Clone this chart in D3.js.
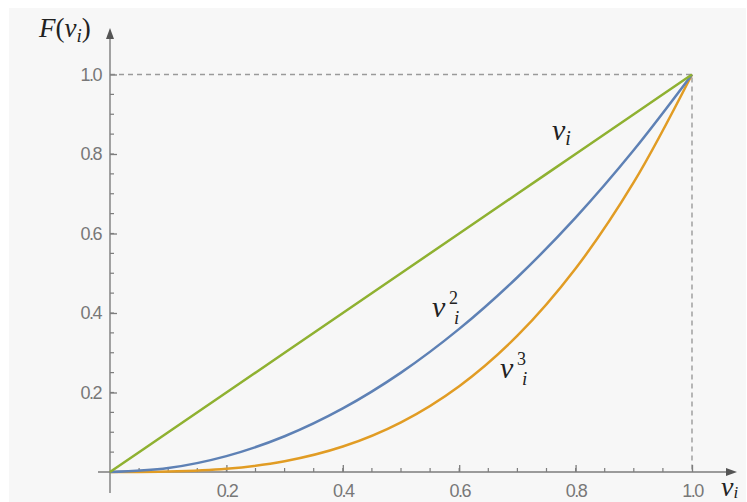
<!DOCTYPE html>
<html>
<head>
<meta charset="utf-8">
<script src="https://cdn.jsdelivr.net/npm/d3@7"></script>
<style>
  body { margin: 0; background: #fff; }
  .tick text { font-family: "Liberation Sans Narrow", "Arial Narrow", "Liberation Sans", Arial, sans-serif; font-size: 18px; fill: #787878; letter-spacing: -1.5px; }
  .math { font-family: "Times New Roman", "Liberation Serif", "DejaVu Serif", serif; font-style: italic; fill: #222; }
</style>
</head>
<body>
<svg></svg>
<script>
// values
var vValues = [0, 0.1, 0.2, 0.3, 0.4, 0.5, 0.6, 0.7, 0.8, 0.9, 1.0];
var lineV  = [0, 0.1, 0.2, 0.3, 0.4, 0.5, 0.6, 0.7, 0.8, 0.9, 1.0];
var lineV2 = [0, 0.01, 0.04, 0.09, 0.16, 0.25, 0.36, 0.49, 0.64, 0.81, 1.0];
var lineV3 = [0, 0.001, 0.008, 0.027, 0.064, 0.125, 0.216, 0.343, 0.512, 0.729, 1.0];
var tickLabels = [0.2, 0.4, 0.6, 0.8, 1.0];

window.onload = function() {
  var svg = d3.select("svg")
    .attr("width", 747)
    .attr("height", 502);

  // grey panel
  svg.append("rect")
    .attr("x", 9).attr("y", 8)
    .attr("width", 737).attr("height", 494)
    .attr("fill", "#f7f7f7");

  var x = d3.scaleLinear().domain([0, 1]).range([110, 692]);
  var y = d3.scaleLinear().domain([0, 1]).range([472, 74.5]);

  var minor = d3.range(1, 20).map(function(i) { return i * 0.05; });

  // dashed guides
  svg.append("path")
    .attr("d", "M" + x(0) + "," + y(1) + "H" + x(1) + "V" + y(0))
    .attr("fill", "none")
    .attr("stroke", "#9a9a9a")
    .attr("stroke-width", 1.4)
    .attr("stroke-dasharray", "5,4");

  // axes lines
  var axisCol = "#7d7d7d";
  svg.append("line")
    .attr("x1", 98).attr("x2", 730)
    .attr("y1", y(0)).attr("y2", y(0))
    .attr("stroke", axisCol).attr("stroke-width", 1.4);
  svg.append("line")
    .attr("x1", x(0)).attr("x2", x(0))
    .attr("y1", 493).attr("y2", 36)
    .attr("stroke", axisCol).attr("stroke-width", 1.4);
  // arrow heads
  svg.append("path")
    .attr("d", "M737," + y(0) + "l-11,-4l0,8z")
    .attr("fill", "#555");
  svg.append("path")
    .attr("d", "M" + x(0) + ",28l-4,11l8,0z")
    .attr("fill", "#555");

  // x axis ticks
  var xAxis = d3.axisTop(x)
    .tickValues(tickLabels)
    .tickSize(7)
    .tickFormat(d3.format(".1f"));
  var gx = svg.append("g")
    .attr("transform", "translate(0," + y(0) + ")")
    .call(xAxis);
  gx.select(".domain").remove();
  gx.selectAll(".tick line").attr("stroke", axisCol).attr("stroke-width", 1.3);
  gx.selectAll(".tick text").attr("y", 25).attr("dy", 0);

  svg.append("g")
    .attr("transform", "translate(0," + y(0) + ")")
    .selectAll("line")
    .data(minor).enter()
    .append("line")
    .attr("x1", function(d) { return x(d); })
    .attr("x2", function(d) { return x(d); })
    .attr("y1", 0).attr("y2", -4)
    .attr("stroke", axisCol).attr("stroke-width", 1.2);

  // y axis ticks
  var yAxis = d3.axisRight(y)
    .tickValues(tickLabels)
    .tickSize(7)
    .tickFormat(d3.format(".1f"));
  var gy = svg.append("g")
    .attr("transform", "translate(" + x(0) + ",0)")
    .call(yAxis);
  gy.select(".domain").remove();
  gy.selectAll(".tick line").attr("stroke", axisCol).attr("stroke-width", 1.3);
  gy.selectAll(".tick text")
    .attr("x", -9)
    .attr("text-anchor", "end");

  svg.append("g")
    .attr("transform", "translate(" + x(0) + ",0)")
    .selectAll("line")
    .data(minor).enter()
    .append("line")
    .attr("y1", function(d) { return y(d); })
    .attr("y2", function(d) { return y(d); })
    .attr("x1", 0).attr("x2", 4)
    .attr("stroke", axisCol).attr("stroke-width", 1.2);

  // curves
  var series = [
    { vals: lineV3, color: "#e19c24" },
    { vals: lineV2, color: "#5e81b5" },
    { vals: lineV,  color: "#8fb131" }
  ];
  var line = d3.line()
    .x(function(d, i) { return x(vValues[i]); })
    .y(function(d) { return y(d); })
    .curve(d3.curveCatmullRom);

  svg.selectAll("path.curve")
    .data(series).enter()
    .append("path")
    .attr("class", "curve")
    .attr("d", function(s) { return line(s.vals); })
    .attr("fill", "none")
    .attr("stroke", function(s) { return s.color; })
    .attr("stroke-width", 2.5);

  // axis labels
  var fl = svg.append("text").attr("class", "math")
    .attr("x", 39).attr("y", 37).style("font-size", "27px");
  fl.append("tspan").text("F");
  fl.append("tspan").style("font-style", "normal").text("(");
  fl.append("tspan").text("v");
  fl.append("tspan").attr("dy", 5).style("font-size", "19px").text("i");
  fl.append("tspan").attr("dy", -5).style("font-style", "normal").text(")");

  var xl = svg.append("text").attr("class", "math")
    .attr("x", 721).attr("y", 496).style("font-size", "28px");
  xl.append("tspan").text("v");
  xl.append("tspan").attr("dy", 2).style("font-size", "17px").text("i");

  // curve labels
  var l1 = svg.append("text").attr("class", "math")
    .attr("x", 552).attr("y", 140).style("font-size", "30px");
  l1.append("tspan").text("v");
  l1.append("tspan").attr("dy", 5).style("font-size", "20px").text("i");

  function powerLabel(px, py, p) {
    svg.append("text").attr("class", "math")
      .attr("x", px).attr("y", py).style("font-size", "30px")
      .text("v");
    svg.append("text").attr("class", "math")
      .attr("x", px + 17).attr("y", py - 13)
      .style("font-size", "18px").style("font-style", "normal")
      .text(p);
    svg.append("text").attr("class", "math")
      .attr("x", px + 22).attr("y", py + 7)
      .style("font-size", "19px")
      .text("i");
  }
  powerLabel(432, 317, "2");
  powerLabel(500, 378, "3");
};
</script>
</body>
</html>
